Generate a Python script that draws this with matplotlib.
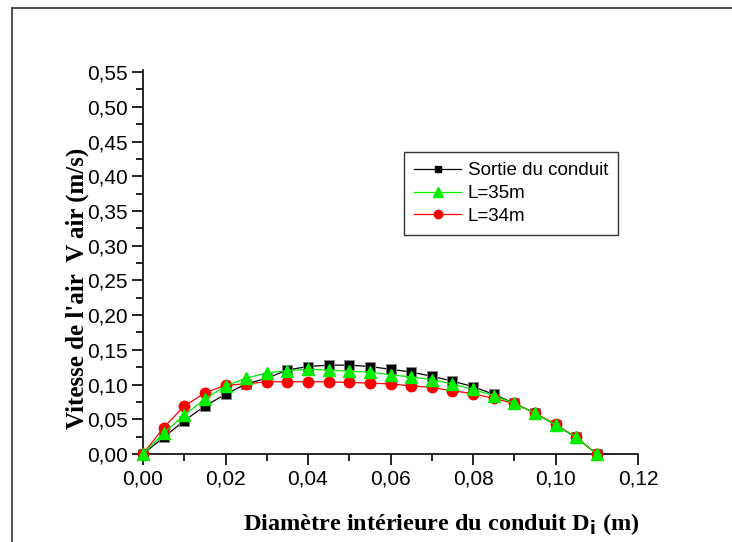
import matplotlib
matplotlib.use("Agg")
import matplotlib.pyplot as plt
from matplotlib.lines import Line2D
from matplotlib.ticker import MultipleLocator, FuncFormatter

# Diameter positions (m)
diametre = [0.000, 0.005, 0.010, 0.015, 0.020, 0.025, 0.030, 0.035, 0.040, 0.045,
            0.050, 0.055, 0.060, 0.065, 0.070, 0.075, 0.080, 0.085, 0.090, 0.095,
            0.100, 0.105, 0.110]

# Air velocity profiles (m/s)
v_sortie = [0.000, 0.024, 0.048, 0.069, 0.086, 0.101, 0.109, 0.121, 0.126, 0.128,
            0.128, 0.126, 0.122, 0.118, 0.112, 0.105, 0.097, 0.086, 0.073, 0.059,
            0.042, 0.024, 0.000]
v_l35 = [0.000, 0.030, 0.056, 0.079, 0.098, 0.109, 0.117, 0.120, 0.122, 0.121,
         0.119, 0.118, 0.114, 0.111, 0.107, 0.101, 0.093, 0.084, 0.073, 0.059,
         0.042, 0.024, 0.000]
v_l34 = [0.000, 0.038, 0.069, 0.088, 0.099, 0.101, 0.104, 0.104, 0.104, 0.104,
         0.103, 0.102, 0.101, 0.098, 0.096, 0.091, 0.087, 0.080, 0.073, 0.059,
         0.043, 0.024, 0.000]

series_labels = ["Sortie du conduit", "L=35m", "L=34m"]

W, H = 732, 542
fig = plt.figure(figsize=(W / 100, H / 100), dpi=100)
ax = fig.add_axes([143 / W, 1 - 454 / H, (638 - 143) / W, (454 - 70) / H])

ax.plot(diametre, v_sortie, color="black", lw=0.9, marker="s", ms=6.5,
        mfc="black", mec="#888888", mew=0.6, zorder=3, clip_on=False)
ax.plot(diametre, v_l34, color="red", lw=0.9, marker="o", ms=7.5,
        mfc="red", mec="red", zorder=4, clip_on=False)
ax.plot(diametre, v_l35, color="#00ee00", lw=0.9, marker="^", ms=8.5,
        mfc="#00ee00", mec="#00ee00", zorder=5, clip_on=False)

ax.set_xlim(0, 0.12)
ax.set_ylim(0, 0.553)

for side in ("top", "right"):
    ax.spines[side].set_visible(False)
for side in ("left", "bottom"):
    ax.spines[side].set_linewidth(1.2)

comma = FuncFormatter(lambda v, p: f"{v:.2f}".replace(".", ","))
ax.xaxis.set_major_locator(MultipleLocator(0.02))
ax.xaxis.set_minor_locator(MultipleLocator(0.01))
ax.yaxis.set_major_locator(MultipleLocator(0.05))
ax.yaxis.set_minor_locator(MultipleLocator(0.025))
ax.xaxis.set_major_formatter(comma)
ax.yaxis.set_major_formatter(comma)

tick_font = "Liberation Sans"
ax.tick_params(which="major", direction="out", length=8, width=1.2,
               labelsize=15, pad=3)
ax.tick_params(which="minor", direction="out", length=5, width=1.2)
for lab in ax.get_xticklabels() + ax.get_yticklabels():
    lab.set_fontfamily(tick_font)

# Axis titles
fig.text(441 / W, 1 - 530 / H, r"Diamètre intérieure du conduit D$_\mathbf{i}$ (m)",
         family="Liberation Serif", weight="bold", fontsize=17.5,
         ha="center", va="baseline")
fig.text(77 / W, 1 - 288 / H, "Vitesse de l'air  V air (m/s)",
         family="Liberation Serif", weight="bold", fontsize=18,
         ha="center", va="center", rotation=90)

handles = [
    Line2D([], [], color="black", lw=0.9, marker="s", ms=5, mfc="black", mec="black"),
    Line2D([], [], color="#00ee00", lw=0.9, marker="^", ms=7, mfc="#00ee00", mec="#00ee00"),
    Line2D([], [], color="red", lw=0.9, marker="o", ms=6, mfc="red", mec="red"),
]
leg = ax.legend(handles, series_labels, loc="upper left",
                bbox_to_anchor=((404 - 143) / 495, (454 - 152) / 384),
                frameon=True, fancybox=False, edgecolor="black",
                prop={"family": tick_font, "size": 13.5}, handlelength=2.5,
                handletextpad=0.35, borderpad=0.55, labelspacing=0.3,
                borderaxespad=0)
leg.get_frame().set_linewidth(1.0)

# Outer frame around the figure (top and left edges)
fig.add_artist(Line2D([12 / W, 12 / W], [0, 1 - 8 / H],
                      transform=fig.transFigure, color="#333333", lw=1.2))
fig.add_artist(Line2D([12 / W, 1], [1 - 8 / H, 1 - 8 / H],
                      transform=fig.transFigure, color="#333333", lw=1.2))

fig.savefig("out.png", dpi=100)
